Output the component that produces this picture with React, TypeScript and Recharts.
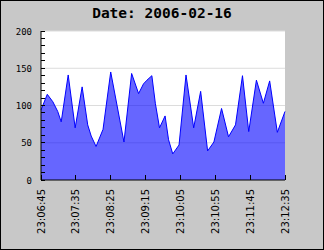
import { Area, AreaChart, CartesianGrid, XAxis, YAxis } from "recharts";

const TITLE = "Date: 2006-02-16";

// sample times and values
const times = [
  "23:06:45", "23:06:54", "23:07:02", "23:07:09", "23:07:14", "23:07:24", "23:07:34", "23:07:44",
  "23:07:52", "23:07:57", "23:08:04", "23:08:14", "23:08:25", "23:08:44", "23:08:55", "23:09:05",
  "23:09:12", "23:09:17", "23:09:24", "23:09:29", "23:09:35", "23:09:43", "23:09:48", "23:09:54",
  "23:10:03", "23:10:13", "23:10:24", "23:10:34", "23:10:44", "23:10:53", "23:11:04", "23:11:14",
  "23:11:24", "23:11:34", "23:11:43", "23:11:54", "23:12:04", "23:12:13", "23:12:24", "23:12:35",
];

const values = [
  94, 115, 105, 92, 78, 141, 70, 125,
  74, 59, 45, 68, 145, 51, 143, 116,
  129, 134, 140, 103, 70, 86, 54, 35,
  47, 141, 70, 119, 39, 51, 96, 58,
  74, 140, 65, 134, 103, 133, 64, 92,
];

const xTickLabels = [
  "23:06:45", "23:07:35", "23:08:25", "23:09:15", "23:10:05", "23:10:55", "23:11:45", "23:12:35",
];

const yTicks = [0, 10, 20, 30, 40, 50, 60, 70, 80, 90, 100, 110, 120, 130, 140, 150, 160, 170, 180, 190, 200];
const yLabelled = [0, 50, 100, 150, 200];

const toSec = (s: string) => {
  const [h, m, sec] = s.split(":").map(Number);
  return h * 3600 + m * 60 + sec;
};

const pad = (n: number) => String(n).padStart(2, "0");
const fmtTime = (t: number) => `${pad(Math.floor(t / 3600))}:${pad(Math.floor((t % 3600) / 60))}:${pad(t % 60)}`;

const data = times.map((t, i) => ({ t: toSec(t), value: values[i] }));
const xTicks = xTickLabels.map(toSec);

const W = 324;
const H = 250;
const GAP = 9;

function YTick({ x, y, payload }: any) {
  const ax = x + GAP;
  return (
    <g>
      <line x1={ax} x2={ax + 4} y1={y} y2={y} stroke="#000" shapeRendering="crispEdges" />
      {yLabelled.includes(payload.value) ? (
        <text x={x} y={y} dy={3.5} textAnchor="end" fontFamily="DejaVu Sans Mono" fontSize={9} fill="#000">
          {payload.value}
        </text>
      ) : null}
    </g>
  );
}

function XTick({ x, y, payload }: any) {
  const ay = y - GAP;
  return (
    <g>
      <line x1={x} x2={x} y1={ay} y2={ay - 5} stroke="#000" shapeRendering="crispEdges" />
      <text
        transform={`translate(${x},${y}) rotate(-90)`}
        textAnchor="end"
        dominantBaseline="central"
        fontFamily="DejaVu Sans"
        fontSize={10}
        fill="#000"
      >
        {fmtTime(payload.value)}
      </text>
    </g>
  );
}

export default function App() {
  return (
    <div
      style={{
        position: "absolute",
        left: 0,
        top: 0,
        width: W,
        height: H,
        background: "#c8c8c8",
        boxShadow: "inset 0 0 0 1px #000",
      }}
    >
      <svg width={W} height={30} style={{ position: "absolute", left: 0, top: 0 }}>
        <text
          x={162}
          y={17.5}
          textAnchor="middle"
          fontFamily="DejaVu Sans Mono"
          fontWeight="bold"
          fontSize={14.5}
          fill="#000"
        >
          {TITLE}
        </text>
      </svg>
      <AreaChart width={W} height={H} data={data} margin={{ top: 31, right: 39, left: 0, bottom: 0 }}>
        <CartesianGrid
          vertical={false}
          horizontalValues={[50, 100, 150, 200]}
          stroke="#dcdcdc"
          fill="#ffffff"
          fillOpacity={1}
        />
        <XAxis
          dataKey="t"
          type="number"
          domain={[xTicks[0], xTicks[xTicks.length - 1]]}
          ticks={xTicks}
          interval={0}
          height={70}
          tickSize={0}
          tickMargin={GAP}
          tickLine={false}
          axisLine={{ stroke: "#000" }}
          tick={<XTick />}
        />
        <YAxis
          type="number"
          domain={[0, 200]}
          ticks={yTicks}
          interval={0}
          width={41}
          tickSize={0}
          tickMargin={GAP}
          tickLine={false}
          axisLine={{ stroke: "#000" }}
          tick={<YTick />}
        />
        <Area
          type="linear"
          dataKey="value"
          stroke="#0000ff"
          strokeWidth={1}
          fill="#0000ff"
          fillOpacity={0.6}
          dot={false}
          activeDot={false}
          isAnimationActive={false}
        />
      </AreaChart>
    </div>
  );
}
